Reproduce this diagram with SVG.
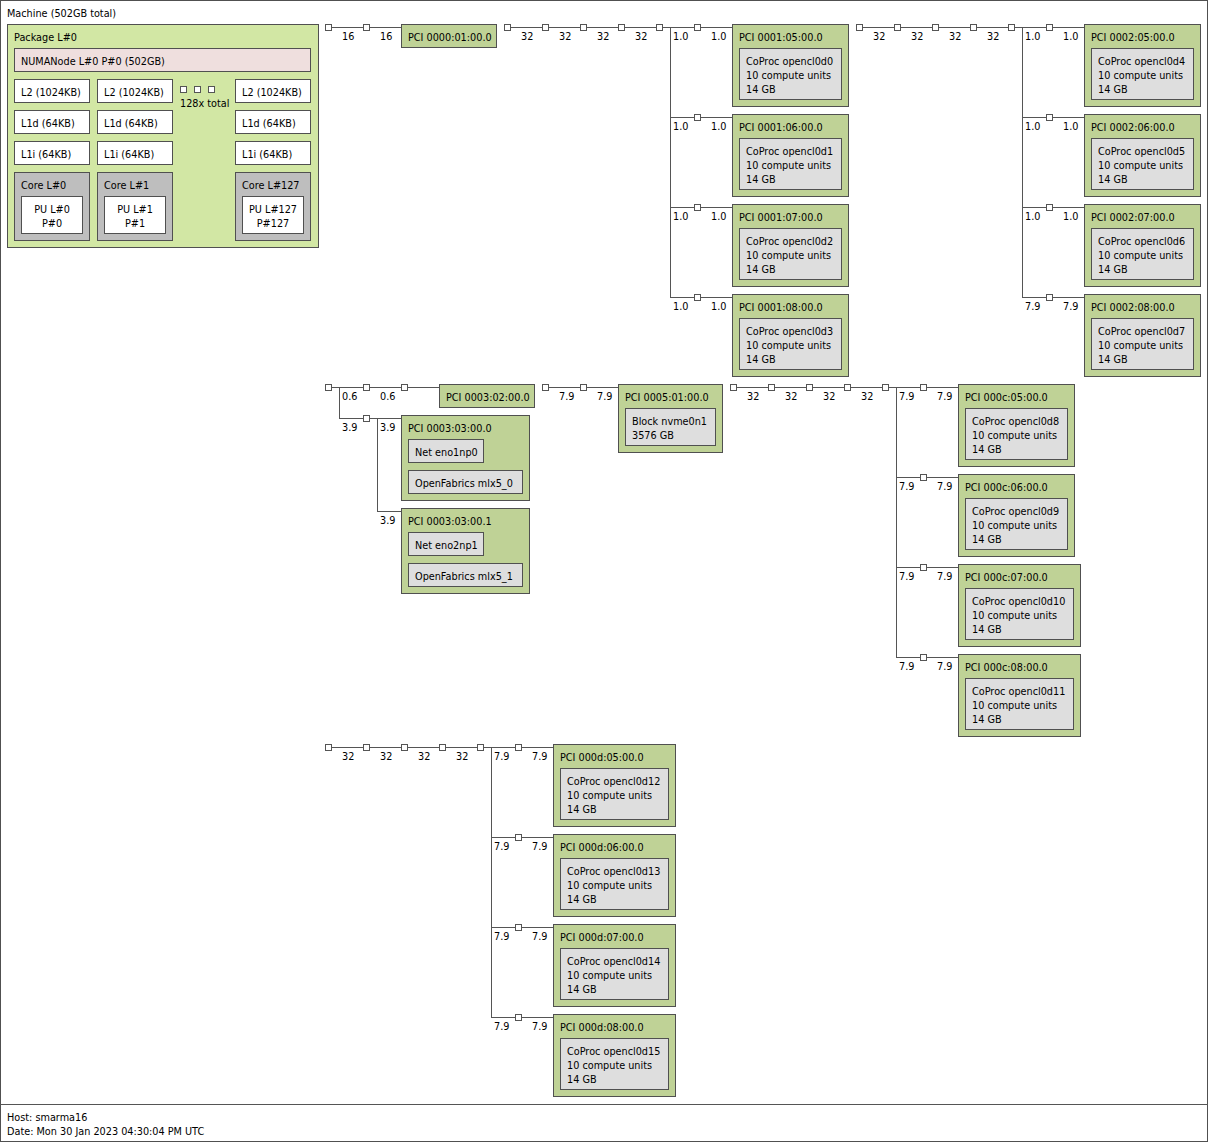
<svg xmlns="http://www.w3.org/2000/svg" width="1208" height="1142" viewBox="0 0 1208 1142">
<style>
text{font-family:"DejaVu Sans",sans-serif;font-size:9.7px;fill:#000}
.b{stroke:#505050;stroke-width:1}
.m{fill:#fff}
.pkg{fill:#d2e7a4}
.numa{fill:#efdfde}
.c{fill:#fff}
.core{fill:#bebebe}
.pci{fill:#bfd296}
.os{fill:#dedede}
.ln{stroke:#555;stroke-width:1;fill:none}
.sq{fill:#fff;stroke:#555;stroke-width:1}
.mid{text-anchor:middle}
</style>
<defs>
<rect id="s" class="sq" width="6" height="6"/>
</defs>
<g id="machine">
<rect class="b m" x="0.5" y="0.5" width="1207" height="1141"/>
<line class="ln" x1="0" y1="1104.5" x2="1208" y2="1104.5"/>
<text x="7" y="17">Machine (502GB total)</text>
<text x="7" y="1121">Host: smarma16</text>
<text x="7" y="1135">Date: Mon 30 Jan 2023 04:30:04 PM UTC</text>
</g>
<g id="package">
<rect class="b pkg" x="7.5" y="24.5" width="311" height="223"/>
<text x="14" y="41">Package L#0</text>
</g>
<g id="numanode">
<rect class="b numa" x="14.5" y="48.5" width="296" height="23"/>
<text x="21" y="65">NUMANode L#0 P#0 (502GB)</text>
</g>
<g id="l2_0"><rect class="b c" x="14.5" y="79.5" width="75" height="23"/><text x="21" y="96">L2 (1024KB)</text></g>
<g id="l2_1"><rect class="b c" x="97.5" y="79.5" width="75" height="23"/><text x="104" y="96">L2 (1024KB)</text></g>
<g id="l2_127"><rect class="b c" x="235.5" y="79.5" width="75" height="23"/><text x="242" y="96">L2 (1024KB)</text></g>
<g id="l1d_0"><rect class="b c" x="14.5" y="110.5" width="75" height="23"/><text x="21" y="127">L1d (64KB)</text></g>
<g id="l1d_1"><rect class="b c" x="97.5" y="110.5" width="75" height="23"/><text x="104" y="127">L1d (64KB)</text></g>
<g id="l1d_127"><rect class="b c" x="235.5" y="110.5" width="75" height="23"/><text x="242" y="127">L1d (64KB)</text></g>
<g id="l1i_0"><rect class="b c" x="14.5" y="141.5" width="75" height="23"/><text x="21" y="158">L1i (64KB)</text></g>
<g id="l1i_1"><rect class="b c" x="97.5" y="141.5" width="75" height="23"/><text x="104" y="158">L1i (64KB)</text></g>
<g id="l1i_127"><rect class="b c" x="235.5" y="141.5" width="75" height="23"/><text x="242" y="158">L1i (64KB)</text></g>
<g id="core_0"><rect class="b core" x="14.5" y="172.5" width="75" height="68"/><text x="21" y="189">Core L#0</text>
<rect class="b c" x="21.5" y="196.5" width="61" height="37"/><text class="mid" x="52" y="213">PU L#0</text><text class="mid" x="52" y="227">P#0</text></g>
<g id="core_1"><rect class="b core" x="97.5" y="172.5" width="75" height="68"/><text x="104" y="189">Core L#1</text>
<rect class="b c" x="104.5" y="196.5" width="61" height="37"/><text class="mid" x="135" y="213">PU L#1</text><text class="mid" x="135" y="227">P#1</text></g>
<g id="core_127"><rect class="b core" x="235.5" y="172.5" width="75" height="68"/><text x="242" y="189">Core L#127</text>
<rect class="b c" x="242.5" y="196.5" width="61" height="37"/><text class="mid" x="273" y="213">PU L#127</text><text class="mid" x="273" y="227">P#127</text></g>
<g id="ellipsis">
<use href="#s" x="180.5" y="86.5"/><use href="#s" x="194.5" y="86.5"/><use href="#s" x="208.5" y="86.5"/>
<text x="180" y="107">128x total</text>
</g>

<g id="connectors">
<path class="ln" d="M332,27.5H401 M504,27.5H732 M670.5,27.5V297.5 M670,117.5H732 M670,207.5H732 M670,297.5H732"/>
<path class="ln" d="M856,27.5H1084 M1022.5,27.5V297.5 M1022,117.5H1084 M1022,207.5H1084 M1022,297.5H1084"/>
<path class="ln" d="M332,387.5H439 M339.5,387.5V418.5 M339,418.5H401 M377.5,418.5V511.5 M377,511.5H401"/>
<path class="ln" d="M549,387.5H618"/>
<path class="ln" d="M730,387.5H958 M896.5,387.5V657.5 M896,477.5H958 M896,567.5H958 M896,657.5H958"/>
<path class="ln" d="M325,747.5H553 M491.5,747.5V1017.5 M491,837.5H553 M491,927.5H553 M491,1017.5H553"/>
<g>
<use href="#s" x="325.5" y="24.5"/><use href="#s" x="363.5" y="24.5"/>
<use href="#s" x="504.5" y="24.5"/><use href="#s" x="542.5" y="24.5"/><use href="#s" x="580.5" y="24.5"/><use href="#s" x="618.5" y="24.5"/><use href="#s" x="656.5" y="24.5"/>
<use href="#s" x="694.5" y="24.5"/><use href="#s" x="694.5" y="114.5"/><use href="#s" x="694.5" y="204.5"/><use href="#s" x="694.5" y="294.5"/>
<use href="#s" x="856.5" y="24.5"/><use href="#s" x="894.5" y="24.5"/><use href="#s" x="932.5" y="24.5"/><use href="#s" x="970.5" y="24.5"/><use href="#s" x="1008.5" y="24.5"/>
<use href="#s" x="1046.5" y="24.5"/><use href="#s" x="1046.5" y="114.5"/><use href="#s" x="1046.5" y="204.5"/><use href="#s" x="1046.5" y="294.5"/>
<use href="#s" x="325.5" y="384.5"/><use href="#s" x="363.5" y="384.5"/><use href="#s" x="401.5" y="384.5"/><use href="#s" x="363.5" y="415.5"/>
<use href="#s" x="542.5" y="384.5"/><use href="#s" x="580.5" y="384.5"/>
<use href="#s" x="730.5" y="384.5"/><use href="#s" x="768.5" y="384.5"/><use href="#s" x="806.5" y="384.5"/><use href="#s" x="844.5" y="384.5"/><use href="#s" x="882.5" y="384.5"/>
<use href="#s" x="920.5" y="384.5"/><use href="#s" x="920.5" y="474.5"/><use href="#s" x="920.5" y="564.5"/><use href="#s" x="920.5" y="654.5"/>
<use href="#s" x="325.5" y="744.5"/><use href="#s" x="363.5" y="744.5"/><use href="#s" x="401.5" y="744.5"/><use href="#s" x="439.5" y="744.5"/><use href="#s" x="477.5" y="744.5"/>
<use href="#s" x="515.5" y="744.5"/><use href="#s" x="515.5" y="834.5"/><use href="#s" x="515.5" y="924.5"/><use href="#s" x="515.5" y="1014.5"/>
</g>
<g>
<text x="342" y="40">16</text><text x="380" y="40">16</text>
<text x="521" y="40">32</text><text x="559" y="40">32</text><text x="597" y="40">32</text><text x="635" y="40">32</text>
<text x="673" y="40">1.0</text><text x="711" y="40">1.0</text>
<text x="673" y="130">1.0</text><text x="711" y="130">1.0</text>
<text x="673" y="220">1.0</text><text x="711" y="220">1.0</text>
<text x="673" y="310">1.0</text><text x="711" y="310">1.0</text>
<text x="873" y="40">32</text><text x="911" y="40">32</text><text x="949" y="40">32</text><text x="987" y="40">32</text>
<text x="1025" y="40">1.0</text><text x="1063" y="40">1.0</text>
<text x="1025" y="130">1.0</text><text x="1063" y="130">1.0</text>
<text x="1025" y="220">1.0</text><text x="1063" y="220">1.0</text>
<text x="1025" y="310">7.9</text><text x="1063" y="310">7.9</text>
<text x="342" y="400">0.6</text><text x="380" y="400">0.6</text>
<text x="342" y="431">3.9</text><text x="380" y="431">3.9</text>
<text x="380" y="524">3.9</text>
<text x="559" y="400">7.9</text><text x="597" y="400">7.9</text>
<text x="747" y="400">32</text><text x="785" y="400">32</text><text x="823" y="400">32</text><text x="861" y="400">32</text>
<text x="899" y="400">7.9</text><text x="937" y="400">7.9</text>
<text x="899" y="490">7.9</text><text x="937" y="490">7.9</text>
<text x="899" y="580">7.9</text><text x="937" y="580">7.9</text>
<text x="899" y="670">7.9</text><text x="937" y="670">7.9</text>
<text x="342" y="760">32</text><text x="380" y="760">32</text><text x="418" y="760">32</text><text x="456" y="760">32</text>
<text x="494" y="760">7.9</text><text x="532" y="760">7.9</text>
<text x="494" y="850">7.9</text><text x="532" y="850">7.9</text>
<text x="494" y="940">7.9</text><text x="532" y="940">7.9</text>
<text x="494" y="1030">7.9</text><text x="532" y="1030">7.9</text>
</g>
</g>

<g id="pci_0000_01"><rect class="b pci" x="401.5" y="24.5" width="95" height="23"/><text x="408" y="41">PCI 0000:01:00.0</text></g>

<g id="pci_0001_05"><rect class="b pci" x="732.5" y="24.5" width="116" height="82"/><text x="739" y="41">PCI 0001:05:00.0</text>
<rect class="b os" x="739.5" y="48.5" width="102" height="51"/><text x="746" y="65">CoProc opencl0d0</text><text x="746" y="79">10 compute units</text><text x="746" y="93">14 GB</text></g>
<g id="pci_0001_06"><rect class="b pci" x="732.5" y="114.5" width="116" height="82"/><text x="739" y="131">PCI 0001:06:00.0</text>
<rect class="b os" x="739.5" y="138.5" width="102" height="51"/><text x="746" y="155">CoProc opencl0d1</text><text x="746" y="169">10 compute units</text><text x="746" y="183">14 GB</text></g>
<g id="pci_0001_07"><rect class="b pci" x="732.5" y="204.5" width="116" height="82"/><text x="739" y="221">PCI 0001:07:00.0</text>
<rect class="b os" x="739.5" y="228.5" width="102" height="51"/><text x="746" y="245">CoProc opencl0d2</text><text x="746" y="259">10 compute units</text><text x="746" y="273">14 GB</text></g>
<g id="pci_0001_08"><rect class="b pci" x="732.5" y="294.5" width="116" height="82"/><text x="739" y="311">PCI 0001:08:00.0</text>
<rect class="b os" x="739.5" y="318.5" width="102" height="51"/><text x="746" y="335">CoProc opencl0d3</text><text x="746" y="349">10 compute units</text><text x="746" y="363">14 GB</text></g>

<g id="pci_0002_05"><rect class="b pci" x="1084.5" y="24.5" width="116" height="82"/><text x="1091" y="41">PCI 0002:05:00.0</text>
<rect class="b os" x="1091.5" y="48.5" width="102" height="51"/><text x="1098" y="65">CoProc opencl0d4</text><text x="1098" y="79">10 compute units</text><text x="1098" y="93">14 GB</text></g>
<g id="pci_0002_06"><rect class="b pci" x="1084.5" y="114.5" width="116" height="82"/><text x="1091" y="131">PCI 0002:06:00.0</text>
<rect class="b os" x="1091.5" y="138.5" width="102" height="51"/><text x="1098" y="155">CoProc opencl0d5</text><text x="1098" y="169">10 compute units</text><text x="1098" y="183">14 GB</text></g>
<g id="pci_0002_07"><rect class="b pci" x="1084.5" y="204.5" width="116" height="82"/><text x="1091" y="221">PCI 0002:07:00.0</text>
<rect class="b os" x="1091.5" y="228.5" width="102" height="51"/><text x="1098" y="245">CoProc opencl0d6</text><text x="1098" y="259">10 compute units</text><text x="1098" y="273">14 GB</text></g>
<g id="pci_0002_08"><rect class="b pci" x="1084.5" y="294.5" width="116" height="82"/><text x="1091" y="311">PCI 0002:08:00.0</text>
<rect class="b os" x="1091.5" y="318.5" width="102" height="51"/><text x="1098" y="335">CoProc opencl0d7</text><text x="1098" y="349">10 compute units</text><text x="1098" y="363">14 GB</text></g>

<g id="pci_0003_02"><rect class="b pci" x="439.5" y="384.5" width="95" height="23"/><text x="446" y="401">PCI 0003:02:00.0</text></g>
<g id="pci_0003_03_0"><rect class="b pci" x="401.5" y="415.5" width="128" height="85"/><text x="408" y="432">PCI 0003:03:00.0</text>
<rect class="b os" x="408.5" y="439.5" width="75" height="23"/><text x="415" y="456">Net eno1np0</text>
<rect class="b os" x="408.5" y="470.5" width="114" height="23"/><text x="415" y="487">OpenFabrics mlx5_0</text></g>
<g id="pci_0003_03_1"><rect class="b pci" x="401.5" y="508.5" width="128" height="85"/><text x="408" y="525">PCI 0003:03:00.1</text>
<rect class="b os" x="408.5" y="532.5" width="75" height="23"/><text x="415" y="549">Net eno2np1</text>
<rect class="b os" x="408.5" y="563.5" width="114" height="23"/><text x="415" y="580">OpenFabrics mlx5_1</text></g>

<g id="pci_0005_01"><rect class="b pci" x="618.5" y="384.5" width="104" height="68"/><text x="625" y="401">PCI 0005:01:00.0</text>
<rect class="b os" x="625.5" y="408.5" width="90" height="37"/><text x="632" y="425">Block nvme0n1</text><text x="632" y="439">3576 GB</text></g>

<g id="pci_000c_05"><rect class="b pci" x="958.5" y="384.5" width="116" height="82"/><text x="965" y="401">PCI 000c:05:00.0</text>
<rect class="b os" x="965.5" y="408.5" width="102" height="51"/><text x="972" y="425">CoProc opencl0d8</text><text x="972" y="439">10 compute units</text><text x="972" y="453">14 GB</text></g>
<g id="pci_000c_06"><rect class="b pci" x="958.5" y="474.5" width="116" height="82"/><text x="965" y="491">PCI 000c:06:00.0</text>
<rect class="b os" x="965.5" y="498.5" width="102" height="51"/><text x="972" y="515">CoProc opencl0d9</text><text x="972" y="529">10 compute units</text><text x="972" y="543">14 GB</text></g>
<g id="pci_000c_07"><rect class="b pci" x="958.5" y="564.5" width="122" height="82"/><text x="965" y="581">PCI 000c:07:00.0</text>
<rect class="b os" x="965.5" y="588.5" width="108" height="51"/><text x="972" y="605">CoProc opencl0d10</text><text x="972" y="619">10 compute units</text><text x="972" y="633">14 GB</text></g>
<g id="pci_000c_08"><rect class="b pci" x="958.5" y="654.5" width="122" height="82"/><text x="965" y="671">PCI 000c:08:00.0</text>
<rect class="b os" x="965.5" y="678.5" width="108" height="51"/><text x="972" y="695">CoProc opencl0d11</text><text x="972" y="709">10 compute units</text><text x="972" y="723">14 GB</text></g>

<g id="pci_000d_05"><rect class="b pci" x="553.5" y="744.5" width="122" height="82"/><text x="560" y="761">PCI 000d:05:00.0</text>
<rect class="b os" x="560.5" y="768.5" width="108" height="51"/><text x="567" y="785">CoProc opencl0d12</text><text x="567" y="799">10 compute units</text><text x="567" y="813">14 GB</text></g>
<g id="pci_000d_06"><rect class="b pci" x="553.5" y="834.5" width="122" height="82"/><text x="560" y="851">PCI 000d:06:00.0</text>
<rect class="b os" x="560.5" y="858.5" width="108" height="51"/><text x="567" y="875">CoProc opencl0d13</text><text x="567" y="889">10 compute units</text><text x="567" y="903">14 GB</text></g>
<g id="pci_000d_07"><rect class="b pci" x="553.5" y="924.5" width="122" height="82"/><text x="560" y="941">PCI 000d:07:00.0</text>
<rect class="b os" x="560.5" y="948.5" width="108" height="51"/><text x="567" y="965">CoProc opencl0d14</text><text x="567" y="979">10 compute units</text><text x="567" y="993">14 GB</text></g>
<g id="pci_000d_08"><rect class="b pci" x="553.5" y="1014.5" width="122" height="82"/><text x="560" y="1031">PCI 000d:08:00.0</text>
<rect class="b os" x="560.5" y="1038.5" width="108" height="51"/><text x="567" y="1055">CoProc opencl0d15</text><text x="567" y="1069">10 compute units</text><text x="567" y="1083">14 GB</text></g>
</svg>
